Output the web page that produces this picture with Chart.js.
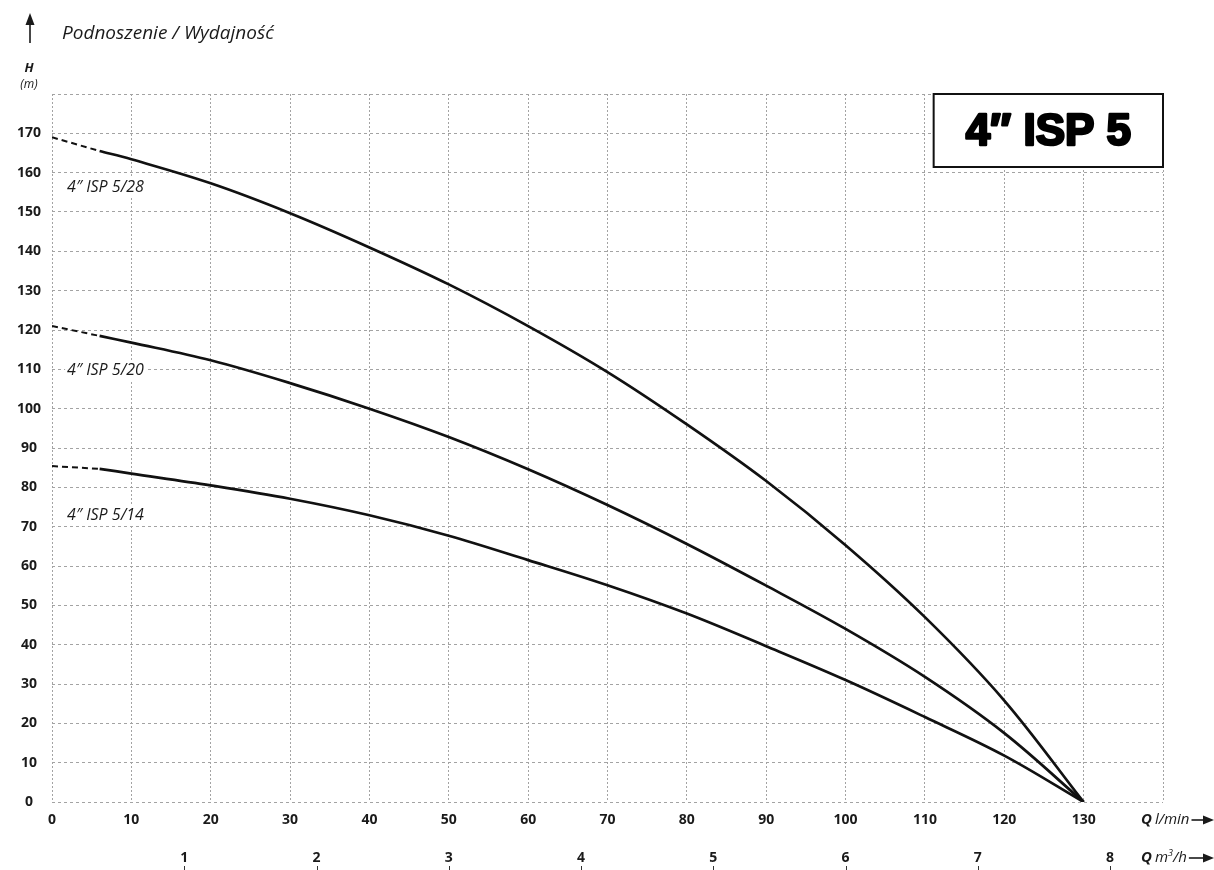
<!DOCTYPE html>
<html>
<head>
<meta charset="utf-8">
<script src="https://cdn.jsdelivr.net/npm/chart.js@4.4.0/dist/chart.umd.min.js"></script>
<style>
  html, body { margin: 0; padding: 0; background: #fff; }
  #wrap { width: 1214px; height: 870px; position: relative; }
</style>
</head>
<body>
<div id="wrap"><canvas id="c" width="1214" height="870"></canvas></div>
<script>
// ---- data ----
const flowLmin = [6, 10, 20, 30, 40, 50, 60, 70, 80, 90, 100, 110, 120, 130];
const head_5_28 = [165.5, 163.4, 157.3, 149.7, 141, 131.6, 121, 109.3, 96, 81.6, 65.3, 47, 25.8, 0];
const head_5_20 = [118.5, 116.8, 112.3, 106.5, 100, 92.8, 84.6, 75.5, 65.6, 55, 44, 31.8, 17.5, 0];
const head_5_14 = [84.7, 83.5, 80.5, 77.1, 72.9, 67.7, 61.5, 55.1, 47.9, 39.6, 31, 21.6, 11.8, 0];
const dashedFlow = [0, 6];
const dashed_5_28 = [169, 165.5];
const dashed_5_20 = [121, 118.5];
const dashed_5_14 = [85.4, 84.7];
const curveNames = ['4\u2033 ISP 5/28', '4\u2033 ISP 5/20', '4\u2033 ISP 5/14'];
const curveLabelPos = [[1.9, 156.3], [1.9, 109.8], [1.9, 72.9]];
const m3hTicks = [1, 2, 3, 4, 5, 6, 7, 8];
const title = 'Podnoszenie / Wydajność';
const boxTitle = '4\u2033 ISP 5';

const toPts = (xs, ys) => xs.map((x, i) => ({x: x, y: ys[i]}));
const solid = (ys, name) => ({
  label: name, data: toPts(flowLmin, ys), showLine: true, borderColor: '#111',
  borderWidth: 2.7, pointRadius: 0, tension: 0.35, fill: false
});
const dashed = (ys, name) => ({
  label: name + ' (ext)', data: toPts(dashedFlow, ys), showLine: true, borderColor: '#111',
  borderWidth: 2, borderDash: [6, 4], pointRadius: 0, fill: false
});

const GRID = '#a3a3a3';
const tickFont = {family: 'Open Sans', size: 14, weight: 'bold'};

const decor = {
  id: 'decor',
  afterDraw(chart) {
    const ctx = chart.ctx;
    const xs = chart.scales.x, ys = chart.scales.y, x2 = chart.scales.x2;
    ctx.save();
    ctx.fillStyle = '#1a1a1a';
    ctx.strokeStyle = '#1a1a1a';
    // up arrow
    ctx.lineWidth = 1.6;
    ctx.beginPath(); ctx.moveTo(30, 43); ctx.lineTo(30, 22); ctx.stroke();
    ctx.beginPath(); ctx.moveTo(30, 13); ctx.lineTo(25.5, 25); ctx.lineTo(34.5, 25); ctx.closePath(); ctx.fill();
    // title
    ctx.font = 'italic 19px "Open Sans"';
    ctx.textBaseline = 'middle'; ctx.textAlign = 'left';
    ctx.fillText(title, 62, 34);
    // H (m)
    ctx.textAlign = 'center';
    ctx.font = 'italic bold 13px "Open Sans"';
    ctx.fillText('H', 29, 68);
    ctx.font = 'italic 12px "Open Sans"';
    ctx.fillText('(m)', 29, 85);
    // curve labels
    ctx.font = 'italic 16px "Open Sans"';
    ctx.textAlign = 'left';
    curveNames.forEach((n, i) => {
      const px = xs.getPixelForValue(curveLabelPos[i][0]);
      const py = ys.getPixelForValue(curveLabelPos[i][1]);
      const w = ctx.measureText(n).width;
      ctx.fillStyle = '#fff';
      ctx.fillRect(px - 2, py - 10, w + 4, 20);
      ctx.fillStyle = '#1a1a1a';
      ctx.fillText(n, px, py);
    });
    // title box
    const bl = xs.getPixelForValue(111.1), br = xs.right, bt = chart.chartArea.top, bb = bt + 73;
    ctx.fillStyle = '#fff';
    ctx.fillRect(bl, bt, br - bl, bb - bt);
    ctx.lineWidth = 2; ctx.strokeStyle = '#111';
    ctx.strokeRect(bl, bt, br - bl, bb - bt);
    ctx.fillStyle = '#000';
    ctx.font = 'bold 44px "Liberation Sans"';
    ctx.textAlign = 'center'; ctx.textBaseline = 'middle';
    ctx.lineWidth = 2.6; ctx.strokeStyle = '#000'; ctx.lineJoin = 'round';
    ctx.fillText(boxTitle, (bl + br) / 2, (bt + bb) / 2 + 2);
    ctx.strokeText(boxTitle, (bl + br) / 2, (bt + bb) / 2 + 2);
    // axis unit labels
    const drawUnit = (y, unit, sup) => {
      ctx.textAlign = 'left'; ctx.textBaseline = 'middle'; ctx.fillStyle = '#1a1a1a';
      ctx.font = 'italic bold 15px "Open Sans"';
      let x = 1141;
      ctx.fillText('Q', x, y);
      x += ctx.measureText('Q').width + 3;
      ctx.font = 'italic 15px "Open Sans"';
      ctx.fillText(unit, x, y);
      x += ctx.measureText(unit).width;
      if (sup) {
        ctx.font = 'italic 9px "Open Sans"';
        ctx.fillText(sup.s, x, y - 5);
        x += ctx.measureText(sup.s).width;
        ctx.font = 'italic 15px "Open Sans"';
        ctx.fillText(sup.rest, x, y);
        x += ctx.measureText(sup.rest).width;
      }
      // arrow
      ctx.lineWidth = 1.6; ctx.strokeStyle = '#1a1a1a';
      ctx.beginPath(); ctx.moveTo(x + 2, y); ctx.lineTo(1206, y); ctx.stroke();
      ctx.beginPath(); ctx.moveTo(1214, y); ctx.lineTo(1203, y - 4.5); ctx.lineTo(1203, y + 4.5); ctx.closePath(); ctx.fill();
    };
    drawUnit(820, 'l/min', null);
    drawUnit(858, 'm', {s: '3', rest: '/h'});
    // small tick marks under m3/h labels
    ctx.lineWidth = 1; ctx.strokeStyle = '#333';
    m3hTicks.forEach(v => {
      const px = Math.round(x2.getPixelForValue(v)) + 0.5;
      ctx.beginPath(); ctx.moveTo(px, 866); ctx.lineTo(px, 870); ctx.stroke();
    });
    ctx.restore();
  }
};

new Chart(document.getElementById('c'), {
  type: 'scatter',
  data: {
    datasets: [
      solid(head_5_28, curveNames[0]), dashed(dashed_5_28, curveNames[0]),
      solid(head_5_20, curveNames[1]), dashed(dashed_5_20, curveNames[1]),
      solid(head_5_14, curveNames[2]), dashed(dashed_5_14, curveNames[2])
    ]
  },
  options: {
    responsive: false, animation: false, devicePixelRatio: 1,
    layout: {padding: {left: 6, right: 51, top: 94, bottom: 0}},
    plugins: {legend: {display: false}, tooltip: {enabled: false}},
    scales: {
      x: {
        type: 'linear', position: 'bottom', min: 0, max: 140, weight: 0,
        ticks: {stepSize: 10, color: '#1a1a1a', font: tickFont, padding: 10, maxRotation: 0,
          callback: v => (v === 140 ? '' : v)},
        grid: {color: GRID, lineWidth: 1, drawTicks: false},
        border: {display: false, dash: [2, 2]},
        afterFit: s => { s.height = 32; }
      },
      x2: {
        type: 'linear', position: 'bottom', min: 0, max: 8.4, weight: 1,
        afterBuildTicks: s => { s.ticks = m3hTicks.map(v => ({value: v})); },
        ticks: {color: '#1a1a1a', font: tickFont, padding: 16, maxRotation: 0, autoSkip: false},
        grid: {display: false, drawTicks: false},
        border: {display: false},
        afterFit: s => { s.height = 36; }
      },
      y: {
        type: 'linear', min: 0, max: 180,
        ticks: {stepSize: 10, color: '#1a1a1a', font: tickFont, crossAlign: 'center', padding: 11,
          callback: v => (v === 180 ? '' : v)},
        grid: {color: GRID, lineWidth: 1, drawTicks: false},
        border: {display: false, dash: [3, 3]},
        afterFit: s => { s.width = 46; }
      }
    }
  },
  plugins: [decor]
});
</script>
</body>
</html>
